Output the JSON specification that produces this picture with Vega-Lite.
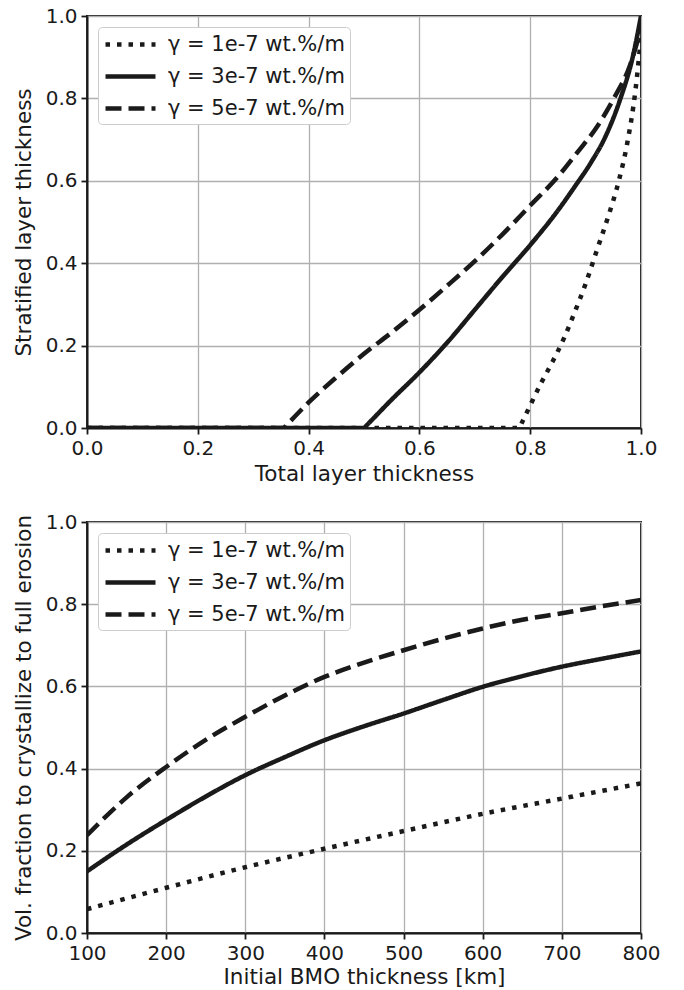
{
  "$schema": "https://vega.github.io/schema/vega-lite/v6.json",
  "padding": {"left": 12, "top": 5, "right": 5, "bottom": 2},
  "background": "white",
  "config": {
    "font": "DejaVu Sans",
    "view": {"stroke": "#1a1a1a", "strokeWidth": 2},
    "axis": {
      "domainColor": "#1a1a1a", "domainWidth": 2,
      "tickColor": "#1a1a1a", "tickWidth": 1.8, "tickSize": 6,
      "labelFont": "DejaVu Sans", "labelFontSize": 20, "labelColor": "#1a1a1a", "labelPadding": 4,
      "titleFont": "DejaVu Sans", "titleFontSize": 21.5, "titleFontWeight": "normal", "titleColor": "#1a1a1a",
      "gridColor": "#b0b0b0", "gridWidth": 1.3, "gridOpacity": 1, "labelFlush": false
    },
    "legend": {
      "orient": "top-left", "offset": 11, "title": null,
      "labelFont": "DejaVu Sans", "labelFontSize": 21, "labelColor": "#1a1a1a", "labelLimit": 0,
      "fillColor": "white", "strokeColor": "#cccccc", "cornerRadius": 4, "padding": 5,
      "symbolType": "M-1,0H4", "symbolSize": 400, "symbolStrokeWidth": 4.5, "symbolStrokeColor": "#1a1a1a",
      "labelOffset": 40, "rowPadding": 9
    }
  },
  "datasets": {
    "top": [
      {"g": "γ = 1e-7 wt.%/m", "x": 0.0, "y": 0.0},
      {"g": "γ = 1e-7 wt.%/m", "x": 0.78, "y": 0.0},
      {"g": "γ = 1e-7 wt.%/m", "x": 0.785, "y": 0.013},
      {"g": "γ = 1e-7 wt.%/m", "x": 0.8, "y": 0.055},
      {"g": "γ = 1e-7 wt.%/m", "x": 0.82, "y": 0.11},
      {"g": "γ = 1e-7 wt.%/m", "x": 0.84, "y": 0.16},
      {"g": "γ = 1e-7 wt.%/m", "x": 0.86, "y": 0.215},
      {"g": "γ = 1e-7 wt.%/m", "x": 0.88, "y": 0.28},
      {"g": "γ = 1e-7 wt.%/m", "x": 0.9, "y": 0.35},
      {"g": "γ = 1e-7 wt.%/m", "x": 0.92, "y": 0.43},
      {"g": "γ = 1e-7 wt.%/m", "x": 0.94, "y": 0.51},
      {"g": "γ = 1e-7 wt.%/m", "x": 0.96, "y": 0.6},
      {"g": "γ = 1e-7 wt.%/m", "x": 0.975, "y": 0.69},
      {"g": "γ = 1e-7 wt.%/m", "x": 0.99, "y": 0.82},
      {"g": "γ = 1e-7 wt.%/m", "x": 1.0, "y": 0.95},
      {"g": "γ = 3e-7 wt.%/m", "x": 0.0, "y": 0.0},
      {"g": "γ = 3e-7 wt.%/m", "x": 0.5, "y": 0.0},
      {"g": "γ = 3e-7 wt.%/m", "x": 0.505, "y": 0.0068},
      {"g": "γ = 3e-7 wt.%/m", "x": 0.55, "y": 0.069},
      {"g": "γ = 3e-7 wt.%/m", "x": 0.6, "y": 0.135},
      {"g": "γ = 3e-7 wt.%/m", "x": 0.65, "y": 0.207},
      {"g": "γ = 3e-7 wt.%/m", "x": 0.7, "y": 0.287},
      {"g": "γ = 3e-7 wt.%/m", "x": 0.75, "y": 0.367},
      {"g": "γ = 3e-7 wt.%/m", "x": 0.8, "y": 0.444},
      {"g": "γ = 3e-7 wt.%/m", "x": 0.85, "y": 0.528},
      {"g": "γ = 3e-7 wt.%/m", "x": 0.88, "y": 0.585},
      {"g": "γ = 3e-7 wt.%/m", "x": 0.91, "y": 0.645},
      {"g": "γ = 3e-7 wt.%/m", "x": 0.935, "y": 0.705},
      {"g": "γ = 3e-7 wt.%/m", "x": 0.963, "y": 0.8},
      {"g": "γ = 3e-7 wt.%/m", "x": 0.985, "y": 0.9},
      {"g": "γ = 3e-7 wt.%/m", "x": 1.0, "y": 1.0},
      {"g": "γ = 5e-7 wt.%/m", "x": 0.0, "y": 0.0},
      {"g": "γ = 5e-7 wt.%/m", "x": 0.355, "y": 0.0},
      {"g": "γ = 5e-7 wt.%/m", "x": 0.36, "y": 0.0068},
      {"g": "γ = 5e-7 wt.%/m", "x": 0.4, "y": 0.062},
      {"g": "γ = 5e-7 wt.%/m", "x": 0.45, "y": 0.123},
      {"g": "γ = 5e-7 wt.%/m", "x": 0.5, "y": 0.18},
      {"g": "γ = 5e-7 wt.%/m", "x": 0.55, "y": 0.232},
      {"g": "γ = 5e-7 wt.%/m", "x": 0.6, "y": 0.287},
      {"g": "γ = 5e-7 wt.%/m", "x": 0.65, "y": 0.345},
      {"g": "γ = 5e-7 wt.%/m", "x": 0.7, "y": 0.405},
      {"g": "γ = 5e-7 wt.%/m", "x": 0.75, "y": 0.47},
      {"g": "γ = 5e-7 wt.%/m", "x": 0.8, "y": 0.54},
      {"g": "γ = 5e-7 wt.%/m", "x": 0.85, "y": 0.61},
      {"g": "γ = 5e-7 wt.%/m", "x": 0.887, "y": 0.672},
      {"g": "γ = 5e-7 wt.%/m", "x": 0.92, "y": 0.73},
      {"g": "γ = 5e-7 wt.%/m", "x": 0.951, "y": 0.8},
      {"g": "γ = 5e-7 wt.%/m", "x": 0.98, "y": 0.88},
      {"g": "γ = 5e-7 wt.%/m", "x": 1.0, "y": 0.97}
    ],
    "bottom": [
      {"g": "γ = 1e-7 wt.%/m", "x": 100, "y": 0.058},
      {"g": "γ = 1e-7 wt.%/m", "x": 200, "y": 0.11},
      {"g": "γ = 1e-7 wt.%/m", "x": 300, "y": 0.16},
      {"g": "γ = 1e-7 wt.%/m", "x": 400, "y": 0.205},
      {"g": "γ = 1e-7 wt.%/m", "x": 500, "y": 0.248},
      {"g": "γ = 1e-7 wt.%/m", "x": 600, "y": 0.29},
      {"g": "γ = 1e-7 wt.%/m", "x": 700, "y": 0.327},
      {"g": "γ = 1e-7 wt.%/m", "x": 800, "y": 0.364},
      {"g": "γ = 3e-7 wt.%/m", "x": 100, "y": 0.15},
      {"g": "γ = 3e-7 wt.%/m", "x": 150, "y": 0.215},
      {"g": "γ = 3e-7 wt.%/m", "x": 200, "y": 0.275},
      {"g": "γ = 3e-7 wt.%/m", "x": 250, "y": 0.332},
      {"g": "γ = 3e-7 wt.%/m", "x": 300, "y": 0.384},
      {"g": "γ = 3e-7 wt.%/m", "x": 350, "y": 0.428},
      {"g": "γ = 3e-7 wt.%/m", "x": 400, "y": 0.469},
      {"g": "γ = 3e-7 wt.%/m", "x": 450, "y": 0.503},
      {"g": "γ = 3e-7 wt.%/m", "x": 500, "y": 0.534},
      {"g": "γ = 3e-7 wt.%/m", "x": 550, "y": 0.567},
      {"g": "γ = 3e-7 wt.%/m", "x": 600, "y": 0.599},
      {"g": "γ = 3e-7 wt.%/m", "x": 650, "y": 0.625},
      {"g": "γ = 3e-7 wt.%/m", "x": 700, "y": 0.648},
      {"g": "γ = 3e-7 wt.%/m", "x": 750, "y": 0.667},
      {"g": "γ = 3e-7 wt.%/m", "x": 800, "y": 0.685},
      {"g": "γ = 5e-7 wt.%/m", "x": 100, "y": 0.238},
      {"g": "γ = 5e-7 wt.%/m", "x": 150, "y": 0.33},
      {"g": "γ = 5e-7 wt.%/m", "x": 200, "y": 0.404},
      {"g": "γ = 5e-7 wt.%/m", "x": 250, "y": 0.47},
      {"g": "γ = 5e-7 wt.%/m", "x": 300, "y": 0.526},
      {"g": "γ = 5e-7 wt.%/m", "x": 350, "y": 0.578},
      {"g": "γ = 5e-7 wt.%/m", "x": 400, "y": 0.623},
      {"g": "γ = 5e-7 wt.%/m", "x": 450, "y": 0.658},
      {"g": "γ = 5e-7 wt.%/m", "x": 500, "y": 0.688},
      {"g": "γ = 5e-7 wt.%/m", "x": 550, "y": 0.716},
      {"g": "γ = 5e-7 wt.%/m", "x": 600, "y": 0.741},
      {"g": "γ = 5e-7 wt.%/m", "x": 650, "y": 0.762},
      {"g": "γ = 5e-7 wt.%/m", "x": 700, "y": 0.778},
      {"g": "γ = 5e-7 wt.%/m", "x": 750, "y": 0.795},
      {"g": "γ = 5e-7 wt.%/m", "x": 800, "y": 0.81}
    ]
  },
  "vconcat": [
    {
      "width": 554, "height": 412,
      "data": {"name": "top"},
      "mark": {"type": "line", "clip": true, "strokeWidth": 4.5, "color": "#1a1a1a", "interpolate": "monotone"},
      "encoding": {
        "x": {"field": "x", "type": "quantitative", "title": "Total layer thickness",
              "scale": {"domain": [0, 1], "nice": false},
              "axis": {"values": [0, 0.2, 0.4, 0.6, 0.8, 1.0], "format": ".1f", "titlePadding": 5}},
        "y": {"field": "y", "type": "quantitative", "title": "Stratified layer thickness",
              "scale": {"domain": [0, 1], "nice": false},
              "axis": {"values": [0, 0.2, 0.4, 0.6, 0.8, 1.0], "format": ".1f", "titlePadding": 10}},
        "strokeDash": {"field": "g", "type": "nominal",
              "scale": {"domain": ["γ = 1e-7 wt.%/m", "γ = 3e-7 wt.%/m", "γ = 5e-7 wt.%/m"],
                        "range": [[4.5, 7], [1, 0], [16, 7]]}}
      }
    },
    {
      "width": 554, "height": 411,
      "data": {"name": "bottom"},
      "mark": {"type": "line", "clip": true, "strokeWidth": 4.5, "color": "#1a1a1a", "interpolate": "monotone"},
      "encoding": {
        "x": {"field": "x", "type": "quantitative", "title": "Initial BMO thickness [km]",
              "scale": {"domain": [100, 800], "nice": false},
              "axis": {"values": [100, 200, 300, 400, 500, 600, 700, 800], "format": "d", "titlePadding": 3}},
        "y": {"field": "y", "type": "quantitative", "title": "Vol. fraction to crystallize to full erosion",
              "scale": {"domain": [0, 1], "nice": false},
              "axis": {"values": [0, 0.2, 0.4, 0.6, 0.8, 1.0], "format": ".1f", "titlePadding": 10}},
        "strokeDash": {"field": "g", "type": "nominal",
              "scale": {"domain": ["γ = 1e-7 wt.%/m", "γ = 3e-7 wt.%/m", "γ = 5e-7 wt.%/m"],
                        "range": [[4.5, 7], [1, 0], [16, 7]]}}
      }
    }
  ],
  "spacing": 94,
  "bounds": "flush",
  "resolve": {"scale": {"strokeDash": "independent"}, "legend": {"strokeDash": "independent"}}
}
